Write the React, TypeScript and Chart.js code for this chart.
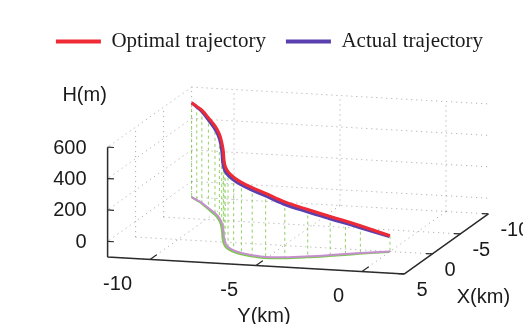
import React, { useEffect, useRef } from 'react';
import { Chart, registerables } from 'chart.js';

Chart.register(...registerables);

// ---- Data: Y (km), X (km), H (m) ----
const trajY = [-12.0, -11.6, -11.2, -10.6, -10.0, -9.5, -9.1, -8.6, -8.15, -7.75, -7.35, -6.9, -6.4, -5.8, -5.1, -4.25, -3.3, -2.4, -1.8, -1.2, 0];
const optimalX = [-10.0, -9.4, -8.8, -7.7, -6.6, -5.5, -4.4, -2.8, -1.2, 0.1, 1.1, 1.8, 2.3, 2.65, 2.9, 2.7, 2.2, 1.6, 1.15, 0.75, 0];
const optimalH = [500, 496, 490, 475, 455, 435, 415, 402, 395, 388, 380, 366, 350, 330, 305, 252, 198, 145, 110, 74, 0];
const actualX = [-10.0, -9.35, -8.7, -7.55, -6.4, -5.3, -4.2, -2.55, -0.95, 0.35, 1.35, 2.05, 2.55, 2.9, 3.15, 2.95, 2.45, 1.85, 1.4, 0.95, 0.1];
const actualH = [500, 494, 487, 471, 450, 430, 410, 397, 390, 383, 374, 360, 344, 323, 298, 245, 191, 139, 104, 68, -2];

// ---- Axes ----
const yRange = [-12, 2];
const xRange = [-10, 5];
const hRange = [-100, 600];
const yTicks = [-10, -5, 0];
const xTicks = [-10, -5, 0, 5];
const hTicks = [0, 200, 400, 600];
const seriesLabels = ['Optimal trajectory', 'Actual trajectory'];
const axisTitles = { h: 'H(m)', y: 'Y(km)', x: 'X(km)' };

// ---- 3D -> 2D view (orthographic), screen units ----
const VIEW = {
  origin: [362, 271.5], // screen position of (Y=0, X=xMax, H=hMin)
  ey: [21.2, 1.2],      // per km of Y
  ex: [-5.6, 4.0],      // per km of X
  eh: [0, -0.1571],     // per m of H
};

function proj(y: number, x: number, h: number) {
  const dx = x - xRange[1];
  const dh = h - hRange[0];
  return {
    x: VIEW.origin[0] + VIEW.ey[0] * y + VIEW.ex[0] * dx + VIEW.eh[0] * dh,
    y: VIEW.origin[1] + VIEW.ey[1] * y + VIEW.ex[1] * dx + VIEW.eh[1] * dh,
  };
}

const GAP = { x: NaN, y: NaN };
type P3 = [number, number, number];
function segs(list: [P3, P3][]) {
  const out: { x: number; y: number }[] = [];
  list.forEach(([a, b]) => {
    out.push(proj(a[0], a[1], a[2]), proj(b[0], b[1], b[2]), GAP);
  });
  return out;
}

export default function App() {
  const ref = useRef<HTMLCanvasElement | null>(null);

  useEffect(() => {
    if (!ref.current) return;
    const [yMin, yMax] = yRange;
    const [xMin, xMax] = xRange;
    const [hMin, hMax] = hRange;

    const optimal = trajY.map((y, i) => proj(y, optimalX[i], optimalH[i]));
    const actual = trajY.map((y, i) => proj(y, actualX[i], actualH[i]));
    const optimalShadow = trajY.map((y, i) => proj(y, optimalX[i], hMin));
    const actualShadow = trajY.map((y, i) => proj(y, actualX[i], hMin));
    const stems = segs(trajY.map((y, i) => [[y, optimalX[i], optimalH[i]], [y, optimalX[i], hMin]] as [P3, P3]));

    const gridList: [P3, P3][] = [];
    yTicks.forEach((y) => gridList.push([[y, xMin, hMin], [y, xMin, hMax]]));
    hTicks.forEach((h) => gridList.push([[yMin, xMin, h], [yMax, xMin, h]]));
    xTicks.forEach((x) => gridList.push([[yMin, x, hMin], [yMin, x, hMax]]));
    hTicks.forEach((h) => gridList.push([[yMin, xMin, h], [yMin, xMax, h]]));
    yTicks.forEach((y) => gridList.push([[y, xMin, hMin], [y, xMax, hMin]]));
    xTicks.forEach((x) => gridList.push([[yMin, x, hMin], [yMax, x, hMin]]));
    const grid = segs(gridList);

    const axes = segs([
      [[yMin, xMax, hMin], [yMin, xMax, hMax]],
      [[yMin, xMax, hMin], [yMax, xMax, hMin]],
      [[yMax, xMax, hMin], [yMax, xMin, hMin]],
    ]);
    const tickList: [P3, P3][] = [];
    hTicks.forEach((h) => tickList.push([[yMin, xMax, h], [yMin + 0.3, xMax, h]]));
    yTicks.forEach((y) => tickList.push([[y, xMax, hMin], [y, xMax - 1.2, hMin]]));
    xTicks.forEach((x) => tickList.push([[yMax, x, hMin], [yMax - 0.3, x, hMin]]));
    const ticks = segs(tickList);

    const textPlugin = {
      id: 'axisText',
      afterDraw(chart: any) {
        const ctx = chart.ctx;
        const sx = chart.scales.x;
        const sy = chart.scales.y;
        const px = (p: { x: number; y: number }) => ({ x: sx.getPixelForValue(p.x), y: sy.getPixelForValue(p.y) });
        ctx.save();
        ctx.fillStyle = '#1a1a1a';
        ctx.font = '20px "Liberation Sans", Arial, sans-serif';
        ctx.textBaseline = 'middle';
        ctx.textAlign = 'right';
        hTicks.forEach((h) => {
          const p = px(proj(yMin, xMax, h));
          ctx.fillText(String(h), p.x - 21, p.y + 1);
        });
        yTicks.forEach((y) => {
          const p = px(proj(y, xMax, hMin));
          ctx.fillText(String(y), p.x - 18, p.y + 25);
        });
        ctx.textAlign = 'left';
        xTicks.forEach((x) => {
          const p = px(proj(yMax, x, hMin));
          ctx.fillText(String(x), p.x + 12, p.y + 17);
        });
        ctx.textAlign = 'center';
        const th = px(proj(yMin, xMax, hMax));
        ctx.fillText(axisTitles.h, th.x - 23, th.y - 52);
        const ty = px(proj((yMin + yMax) / 2, xMax, hMin));
        ctx.fillText(axisTitles.y, ty.x + 8, ty.y + 51);
        const tx = px(proj(yMax, xMax, hMin));
        ctx.fillText(axisTitles.x, tx.x + 79, tx.y + 24);
        ctx.restore();
      },
    };

    const lineDs = (label: string, data: any[], color: string, width: number, extra: any = {}) => ({
      label,
      data,
      showLine: true,
      borderColor: color,
      backgroundColor: color,
      borderWidth: width,
      pointRadius: 0,
      pointHoverRadius: 0,
      tension: 0,
      clip: false,
      ...extra,
    });

    const chart = new Chart(ref.current, {
      type: 'scatter',
      data: {
        datasets: [
          lineDs(seriesLabels[0], optimal, '#ee2a35', 3, { tension: 0.35 }),
          lineDs(seriesLabels[1], actual, '#5b3fae', 3, { tension: 0.35 }),
          lineDs('optimal shadow', optimalShadow, '#c58fcf', 2, { tension: 0.35 }),
          lineDs('actual shadow', actualShadow, '#7cc84e', 2, { tension: 0.35 }),
          lineDs('stems', stems, 'rgba(110,195,50,0.75)', 1, { borderDash: [3, 3] }),
          lineDs('axes', axes, '#2b2b2b', 1.5),
          lineDs('ticks', ticks, '#2b2b2b', 1.2),
          lineDs('grid', grid, 'rgba(90,90,90,0.55)', 1, { borderDash: [1, 4] }),
        ],
      },
      options: {
        responsive: false,
        animation: false,
        events: [],
        layout: { padding: { top: 3, left: 8, right: 0, bottom: 0 } },
        scales: {
          x: { type: 'linear', display: false, min: 16, max: 523 },
          y: { type: 'linear', display: false, reverse: true, min: 62, max: 332 },
        },
        plugins: {
          tooltip: { enabled: false },
          legend: {
            display: true,
            position: 'top',
            labels: {
              boxWidth: 45,
              boxHeight: 4,
              padding: 20,
              color: '#1a1a1a',
              font: { family: '"Liberation Serif", "Times New Roman", serif', size: 21 },
              generateLabels: (c: any) =>
                c.data.datasets.slice(0, 2).map((ds: any, i: number) => ({
                  text: ds.label,
                  fillStyle: ds.borderColor,
                  strokeStyle: ds.borderColor,
                  lineWidth: 0,
                  hidden: false,
                  datasetIndex: i,
                  fontColor: '#1a1a1a',
                })),
            },
          },
        },
      },
      plugins: [textPlugin],
    });
    return () => chart.destroy();
  }, []);

  return (
    <div style={{ height: 316 }}>
      <canvas ref={ref} width={515} height={324} style={{ display: 'block' }} />
    </div>
  );
}
